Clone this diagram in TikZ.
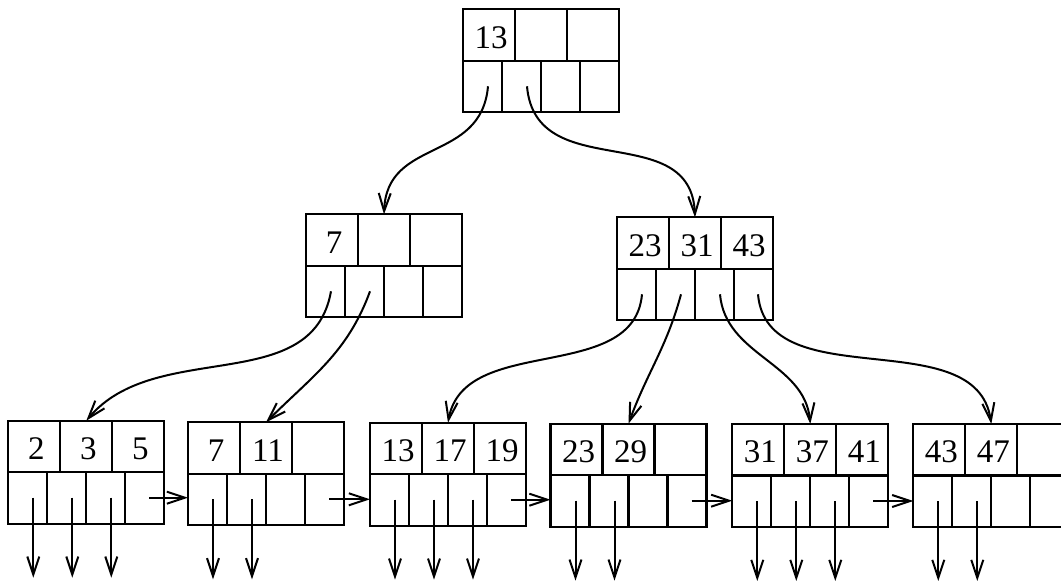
\documentclass[tikz,border=0pt]{standalone}
\usepackage{fontspec}
\setmainfont{Liberation Serif}
\usetikzlibrary{arrows.meta}
\tikzset{
  bbox/.style={draw, line width=2.2pt, minimum width=156pt, minimum height=103pt, inner sep=0pt, outer sep=0pt},
  cellline/.style={line width=2.2pt},
  keytext/.style={font=\fontsize{33}{33}\selectfont, inner sep=0pt},
  ptr/.style={line width=2pt, -{Straight Barb[length=18pt,width=12pt,line width=2pt]}},
}
\newcommand\bpnode[6]{%
  \begin{scope}[shift={(#2,-#3)}]
    \node[bbox,anchor=north west] (#1) at (0,0) {};
    \draw[cellline] (0,-51.5) -- (156,-51.5);
    \draw[cellline] (52,0) -- (52,-51.5) (104,0) -- (104,-51.5);
    \draw[cellline] (39,-51.5) -- (39,-103) (78,-51.5) -- (78,-103) (117,-51.5) -- (117,-103);
    \node[keytext] (#1-k1) at (28,-28) {#4};
    \node[keytext] (#1-k2) at (80,-28) {#5};
    \node[keytext] (#1-k3) at (132,-28) {#6};
    \coordinate (#1-p1) at (25,-77);
    \coordinate (#1-p2) at (64,-77);
    \coordinate (#1-p3) at (103,-77);
    \coordinate (#1-p4) at (141,-77);
    \coordinate (#1-d1) at (25,-157);
    \coordinate (#1-d2) at (64,-157);
    \coordinate (#1-d3) at (103,-157);
  \end{scope}}
\begin{document}
\begin{tikzpicture}[x=1pt,y=1pt]
  \useasboundingbox[fill=white] (0,0) rectangle (1061,-581);
  \bpnode{root}{463}{9.3}{13}{}{}
  \bpnode{int1}{306}{214.3}{7}{}{}
  \bpnode{int2}{617}{217.3}{23}{31}{43}
  \bpnode{leaf1}{8.3}{420.7}{2}{3}{5}
  \bpnode{leaf2}{188}{422.3}{7}{11}{}
  \bpnode{leaf3}{370}{422.7}{13}{17}{19}
  \bpnode{leaf4}{550.5}{423.7}{23}{29}{}
  \bpnode{leaf5}{732.3}{424}{31}{37}{41}
  \bpnode{leaf6}{913.3}{424}{43}{47}{}
  % tree pointers
  \draw[ptr] (root-p1) to[out=-95,in=88,looseness=1.2] (int1.north);
  \draw[ptr] (root-p2) to[out=-85,in=92,looseness=1.2] (int2.north);
  \draw[ptr] (int1-p1) to[out=-100,in=50] (leaf1.north);
  \draw[ptr] (int1-p2) to[out=-110,in=45] (leaf2.north);
  \draw[ptr] (int2-p1) to[out=-95,in=80] (leaf3.north);
  \draw[ptr] (int2-p2) to[out=-105,in=70] (leaf4.north);
  \draw[ptr] (int2-p3) to[out=-85,in=95] (leaf5.north);
  \draw[ptr] (int2-p4) to[out=-85,in=98] (leaf6.north);
  % sibling pointers
  \draw[ptr] (leaf1-p4) -- (leaf1-p4 -| leaf2.west);
  \draw[ptr] (leaf2-p4) -- (leaf2-p4 -| leaf3.west);
  \draw[ptr] (leaf3-p4) -- (leaf3-p4 -| leaf4.west);
  \draw[ptr] (leaf4-p4) -- (leaf4-p4 -| leaf5.west);
  \draw[ptr] (leaf5-p4) -- (leaf5-p4 -| leaf6.west);
  % record pointers
  \foreach \l in {leaf1,leaf3,leaf5} {
    \draw[ptr] (\l-p1) -- (\l-d1);
    \draw[ptr] (\l-p2) -- (\l-d2);
    \draw[ptr] (\l-p3) -- (\l-d3);
  }
  \foreach \l in {leaf2,leaf4,leaf6} {
    \draw[ptr] (\l-p1) -- (\l-d1);
    \draw[ptr] (\l-p2) -- (\l-d2);
  }
\end{tikzpicture}
\end{document}
